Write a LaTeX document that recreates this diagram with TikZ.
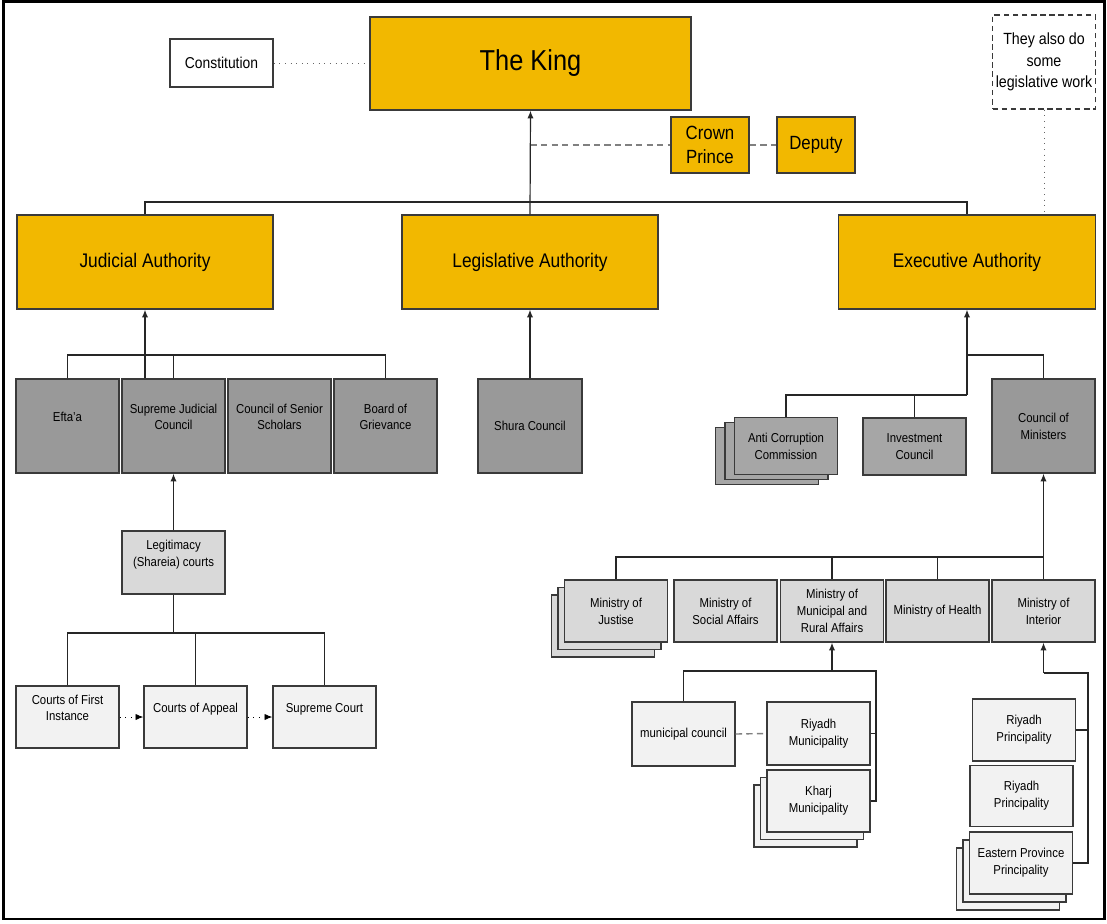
\documentclass[tikz,border=0pt]{standalone}
\usepackage{fontspec}
\setmainfont{Liberation Sans}[FakeStretch=0.88]
\usepackage{tikz}
\usetikzlibrary{arrows.meta, calc, positioning, shadows}
\definecolor{kinggold}{RGB}{242,184,0}
\definecolor{darkgrey}{RGB}{153,153,153}
\definecolor{midgrey}{RGB}{166,166,166}
\definecolor{lightgrey}{RGB}{217,217,217}
\definecolor{palegrey}{RGB}{242,242,242}
\definecolor{edgegrey}{RGB}{58,58,58}
\newcommand\pu{0.025cm}

\tikzset{
	box/.style={draw=edgegrey, line width=1pt, align=center, inner sep=2pt,
		minimum width=103*\pu},
	goldbox/.style={box, fill=kinggold},
	darkbox/.style={box, fill=darkgrey, minimum height=94*\pu,
		font=\fontsize{9.2}{12}\selectfont},
	midbox/.style={box, fill=midgrey, minimum height=57*\pu,
		font=\fontsize{9.2}{12}\selectfont},
	lightbox/.style={box, fill=lightgrey, minimum height=62*\pu,
		font=\fontsize{9.2}{12}\selectfont},
	palebox/.style={box, fill=palegrey, minimum height=62*\pu,
		font=\fontsize{9.2}{12}\selectfont},
	raised/.style={text depth=13pt},
	stack/.style n args={5}{
		copy shadow={shadow xshift=#3, shadow yshift=#4, fill=#5, draw=edgegrey, line width=1pt},
		copy shadow={shadow xshift=#1, shadow yshift=#2, fill=#5, draw=edgegrey, line width=1pt}},
	link/.style={draw=black!85, line width=0.85pt},
	up/.style={link, ->},
	greydash/.style={draw=black!50, line width=1.4pt, dash pattern=on 4.5pt off 3pt},
	dots/.style={draw=black!60, line width=0.6pt, dash pattern=on 0.6pt off 3.4pt},
}

\begin{document}
\begin{tikzpicture}[x=\pu, y=-\pu, >={Latex[length=5.5pt,width=4.5pt]}]
	\useasboundingbox (0,0) rectangle (1107,923);
	\draw[line width=2pt] (3.5,1.5) rectangle (1104.5,919);
	
	\coordinate (K)   at (530.5,63.5);
	\coordinate (C)   at (221.5,63);
	\coordinate (CP)  at (710,145);
	\coordinate (D)   at (816,145);
	\coordinate (N)   at (1044,62);
	\coordinate (JA)  at (145,262);
	\coordinate (LA)  at (530,262);
	\coordinate (EA)  at (967,262);
	
	\node[goldbox, minimum width=321*\pu, minimum height=93*\pu, font=\fontsize{20.5}{24}\selectfont] (king) at (K) {The King};
	\node[box, fill=white, minimum height=48*\pu, font=\fontsize{11.2}{13}\selectfont] (cons) at (C) {Constitution};
	\node[goldbox, minimum width=78*\pu, minimum height=56*\pu, font=\fontsize{13.6}{16.5}\selectfont] (crown) at (CP) {Crown\\Prince};
	\node[goldbox, minimum width=78*\pu, minimum height=56*\pu, font=\fontsize{13.6}{16.5}\selectfont] (deputy) at (D) {Deputy};
	\node[box, fill=white, dash pattern=on 4pt off 2.5pt, minimum height=94*\pu, font=\fontsize{11.5}{15.4}\selectfont] (note) at (N) {They also do\\some\\legislative work};
	
	\node[goldbox, minimum width=256*\pu, minimum height=94*\pu, font=\fontsize{14}{17}\selectfont] (jud) at (JA) {Judicial Authority};
	\node[goldbox, minimum width=256*\pu, minimum height=94*\pu, font=\fontsize{14}{17}\selectfont] (leg) at (LA) {Legislative Authority};
	\node[goldbox, minimum width=257*\pu, minimum height=94*\pu, font=\fontsize{14}{17}\selectfont] (exe) at (EA) {Executive Authority};
	
	% judicial branch
	\node[darkbox, raised] (efta)     at (67.5,426)  {Efta'a};
	\node[darkbox, raised] (sjc)      at (173.5,426) {Supreme Judicial\\Council};
	\node[darkbox, raised] (scholars) at (279.5,426) {Council of Senior\\Scholars};
	\node[darkbox, raised] (board)    at (385.5,426) {Board of\\Grievance};
	\node[darkbox, minimum width=104*\pu] (shura) at (530,426) {Shura Council};
	
	\node[lightbox, raised, minimum height=63*\pu] (legit) at (173.5,562.5) {Legitimacy\\(Shareia) courts};
	\node[palebox, raised] (first)  at (67.5,717)  {Courts of First\\Instance};
	\node[palebox, raised] (appeal) at (195.5,717) {Courts of Appeal};
	\node[palebox, raised] (supc)   at (324.5,717) {Supreme Court};
	
	% executive branch
	\node[midbox, stack={-0.2375cm}{-0.125cm}{-0.475cm}{-0.25cm}{midgrey}] (anti) at (786,446) {Anti Corruption\\Commission};
	\node[midbox] (invest) at (914.5,446.5) {Investment\\Council};
	\node[darkbox] (com) at (1043.5,426) {Council of\\Ministers};
	
	\node[lightbox, stack={-0.1625cm}{-0.1875cm}{-0.325cm}{-0.375cm}{lightgrey}] (justise) at (616,611) {Ministry of\\Justise};
	\node[lightbox] (social)   at (725.5,611)  {Ministry of\\Social Affairs};
	\node[lightbox] (muni)     at (832,611)    {Ministry of\\Municipal and\\Rural Affairs};
	\node[lightbox] (health)   at (937.5,611)  {Ministry of Health};
	\node[lightbox] (interior) at (1043.5,611) {Ministry of\\Interior};
	
	\node[palebox, minimum height=64*\pu] (mcouncil) at (683.5,734) {municipal council};
	\node[palebox, minimum height=63*\pu] (riyadhm)  at (818.5,733.5) {Riyadh\\Municipality};
	\node[palebox, stack={-0.1625cm}{-0.1875cm}{-0.325cm}{-0.375cm}{palegrey}] (kharj) at (818.5,801) {Kharj\\Municipality};
	
	\node[palebox] (riyadhp) at (1024,730) {Riyadh\\Principality};
	\node[palebox, minimum height=61*\pu] (riyadhq) at (1021.5,796) {Riyadh\\Principality};
	\node[palebox, stack={-0.1625cm}{-0.2cm}{-0.325cm}{-0.4cm}{palegrey}] (eastern) at (1021,863) {Eastern Province\\Principality};
	
	% top level links
	\coordinate (topbus) at (530,202);
	\draw[dots] (cons.east) -- (cons.east -| king.west);
	\draw[up] (leg.north) -- (king.south);
	\draw[link] (jud.north) |- (topbus) -| (exe.north);
	\draw[greydash] (king.south |- crown.west) -- (crown.west);
	\draw[greydash] (crown.east) -- (deputy.west);
	\draw[dots] (note.south) -- (note.south |- exe.north);
	
	% judicial links
	\coordinate (jbus) at (145,355);
	\coordinate (cbus) at (173.5,633);
	\draw[link] (efta.north) |- (jbus) -| (board.north);
	\draw[link] (sjc.north) -- (sjc.north |- jbus);
	\draw[up] (jud.south |- sjc.north) -- (jud.south);
	\draw[up] (shura.north) -- (leg.south);
	\draw[up] (legit.north) -- (sjc.south);
	\draw[link] (legit.south) -- (cbus);
	\draw[link] (first.north) |- (cbus) -| (supc.north);
	\draw[link] (appeal.north) -- (appeal.north |- cbus);
	\draw[dots, draw=black, ->] (first.east) -- (appeal.west);
	\draw[dots, draw=black, ->] (appeal.east) -- (supc.west);
	
	% executive links
	\coordinate (ebus) at (967,355);
	\coordinate (abus) at (967,395);
	\draw[up] (abus) -- (exe.south);
	\draw[link] (ebus) -| (com.north);
	\draw[link] (anti.north) |- (abus);
	\draw[link] (invest.north) -- (invest.north |- abus);
	
	\coordinate (mbus) at (1043.5,557);
	\draw[up] (mbus) -- (com.south);
	\draw[link] (justise.north) |- (mbus) -- (interior.north);
	\draw[link] (muni.north) -- (muni.north |- mbus);
	\draw[link] (health.north) -- (health.north |- mbus);
	
	\coordinate (mubus) at (832,671);
	\coordinate (muright) at (876,671);
	\draw[up] (mubus) -- (muni.south);
	\draw[link] (mcouncil.north) |- (mubus) -- (muright) |- (kharj.east);
	\draw[link] (riyadhm.east) -- (riyadhm.east -| muright);
	\draw[greydash, line width=1pt] (mcouncil.east) -- (riyadhm.west);
	
	\coordinate (pbus) at (1043.5,673);
	\coordinate (pright) at (1088,673);
	\draw[up] (pbus) -- (interior.south);
	\draw[link] (pbus) -- (pright) |- (eastern.east);
	\draw[link] (riyadhp.east) -- (riyadhp.east -| pright);
\end{tikzpicture}
\end{document}
